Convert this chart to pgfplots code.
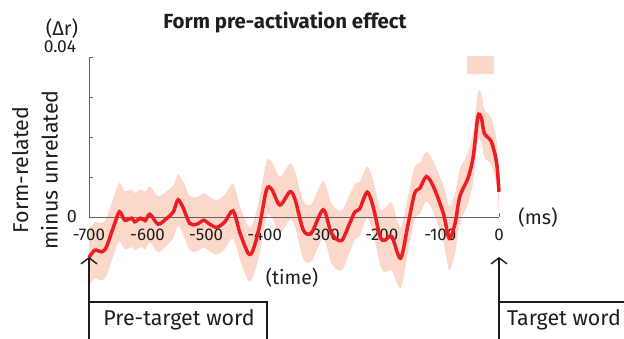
\documentclass[border=0pt]{standalone}
\usepackage{fontspec}
\setmainfont{Fira Sans}
\usepackage{pgfplots}
\usepackage{pgfplotstable}
\pgfplotsset{compat=1.18}
\usepgfplotslibrary{fillbetween}
\usetikzlibrary{arrows.meta}
\definecolor{band}{RGB}{252,216,202}
\definecolor{redline}{RGB}{235,30,35}
\definecolor{sig}{RGB}{250,215,200}
\definecolor{axgray}{RGB}{100,100,100}
\definecolor{ink}{RGB}{30,30,30}
\newcommand{\fs}[1]{\fontsize{#1}{#1}\selectfont}

\pgfplotstableread{
t y lo hi
-700 -0.0101 -0.0171 -0.0031
-690 -0.0083 -0.0153 -0.0013
-678 -0.0087 -0.0159 -0.0015
-670 -0.0074 -0.0146 -0.0002
-658 -0.0024 -0.0097 0.0049
-648 0.0013 -0.0060 0.0086
-639 -0.0008 -0.0081 0.0065
-627 -0.0003 -0.0075 0.0069
-622 -0.0012 -0.0084 0.0060
-612 -0.0003 -0.0075 0.0069
-604 -0.0009 -0.0081 0.0063
-596 0.0007 -0.0063 0.0077
-582 -0.0018 -0.0088 0.0052
-567 -0.0003 -0.0071 0.0065
-556 0.0013 -0.0053 0.0079
-548 0.0043 -0.0021 0.0107
-539 0.0022 -0.0044 0.0088
-528 -0.0016 -0.0084 0.0052
-516 -0.0018 -0.0086 0.0050
-504 -0.0008 -0.0076 0.0060
-496 -0.0016 -0.0084 0.0052
-482 -0.0026 -0.0094 0.0042
-468 -0.0012 -0.0080 0.0056
-454 0.0015 -0.0053 0.0083
-442 -0.0041 -0.0109 0.0027
-428 -0.0091 -0.0159 -0.0023
-420 -0.0083 -0.0151 -0.0015
-409 -0.0024 -0.0094 0.0046
-397 0.0068 -0.0002 0.0138
-388 0.0069 -0.0001 0.0139
-374 0.0030 -0.0040 0.0100
-357 0.0063 -0.0007 0.0133
-348 0.0043 -0.0027 0.0113
-334 -0.0033 -0.0105 0.0039
-320 -0.0039 -0.0111 0.0033
-300 0.0018 -0.0054 0.0090
-286 -0.0041 -0.0116 0.0034
-269 -0.0059 -0.0134 0.0016
-255 -0.0016 -0.0088 0.0056
-246 0.0013 -0.0057 0.0083
-238 0.0020 -0.0048 0.0088
-225 0.0062 -0.0002 0.0126
-215 0.0026 -0.0040 0.0092
-203 -0.0049 -0.0119 0.0021
-195 -0.0058 -0.0138 0.0022
-183 -0.0049 -0.0134 0.0036
-168 -0.0103 -0.0178 -0.0028
-155 -0.0016 -0.0086 0.0054
-144 0.0059 -0.0007 0.0125
-135 0.0072 0.0008 0.0136
-124 0.0101 0.0039 0.0163
-112 0.0076 0.0012 0.0140
-95 0.0009 -0.0061 0.0079
-85 -0.0053 -0.0133 0.0027
-75 -0.0016 -0.0091 0.0059
-67 0.0051 -0.0017 0.0119
-53 0.0097 0.0033 0.0161
-44 0.0151 0.0089 0.0213
-36 0.0251 0.0191 0.0311
-30 0.0247 0.0187 0.0307
-25 0.0209 0.0149 0.0269
-13 0.0188 0.0130 0.0246
-4 0.0134 0.0079 0.0189
0 0.0063 0.0013 0.0113
}\datatable

\begin{document}
\begin{tikzpicture}
\begin{axis}[
  scale only axis, width=410bp, height=160bp,
  at={(89bp,122bp)}, anchor=south west,
  xmin=-700, xmax=0, ymin=0, ymax=0.04, clip=false,
  axis x line*=bottom, axis y line*=left,
  x axis line style={axgray, line width=0.8bp},
  y axis line style={axgray, line width=0.8bp},
  tick style={axgray, line width=0.8bp},
  tick align=inside, major tick length=4bp,
  xtick={-700,-600,-500,-400,-300,-200,-100,0},
  xticklabels={-700,-600,-500,-400,-300,-200,-100,0},
  xticklabel style={font=\fs{17}, text=ink, yshift=-8bp},
  ytick={0,0.01,0.02,0.03,0.04},
  yticklabels={},
  scaled y ticks=false,
]
\addplot[name path=hi, draw=none, smooth] table[x=t,y=hi]{\datatable};
\addplot[name path=lo, draw=none, smooth] table[x=t,y=lo]{\datatable};
\addplot[band, draw=none] fill between[of=hi and lo];
\addplot[fill=sig, draw=none] coordinates {(-54,0.0358) (-8,0.0358) (-8,0.0402) (-54,0.0402)} -- cycle;
\addplot[axgray, line width=0.8bp] coordinates {(-700,0) (0,0)};
\addplot[redline, line width=3.5bp, smooth] table[x=t,y=y]{\datatable};
\end{axis}
\node[font=\bfseries\fs{20.5}, text=ink] at (285bp,317bp) {Form pre-activation effect};
\node[font=\fs{20}, text=ink] at (62bp,310bp) {(Δr)};
\node[font=\fs{17.5}, text=ink] at (60bp,292bp) {0.04};
\node[font=\fs{18}, text=ink] at (72bp,122bp) {0};
\node[font=\fs{21.5}, text=ink, rotate=90, align=center] at (35bp,169bp) {Form-related\\[8pt]minus unrelated};
\node[font=\fs{20}, text=ink] at (538bp,121bp) {(ms)};
\node[font=\fs{19.5}, text=ink] at (292bp,61bp) {(time)};
\draw[ink, line width=1.4bp] (89bp,-20bp) -- (89bp,37bp) -- (267bp,37bp) -- (267bp,-20bp);
\draw[ink, line width=1.4bp] (499bp,-20bp) -- (499bp,37bp) -- (660bp,37bp);
\draw[ink, line width=1.4bp, -{Straight Barb[length=6bp,width=16bp]}] (89bp,37bp) -- (89bp,82bp);
\draw[ink, line width=1.4bp, -{Straight Barb[length=6bp,width=16bp]}] (499bp,37bp) -- (499bp,82bp);
\node[font=\fs{21.5}, text=ink] at (179bp,19bp) {Pre-target word};
\node[font=\fs{21.5}, text=ink] at (564bp,19bp) {Target word};
\pgfresetboundingbox
\path[use as bounding box] (0,0) rectangle (624bp,339bp);
\end{tikzpicture}
\end{document}
